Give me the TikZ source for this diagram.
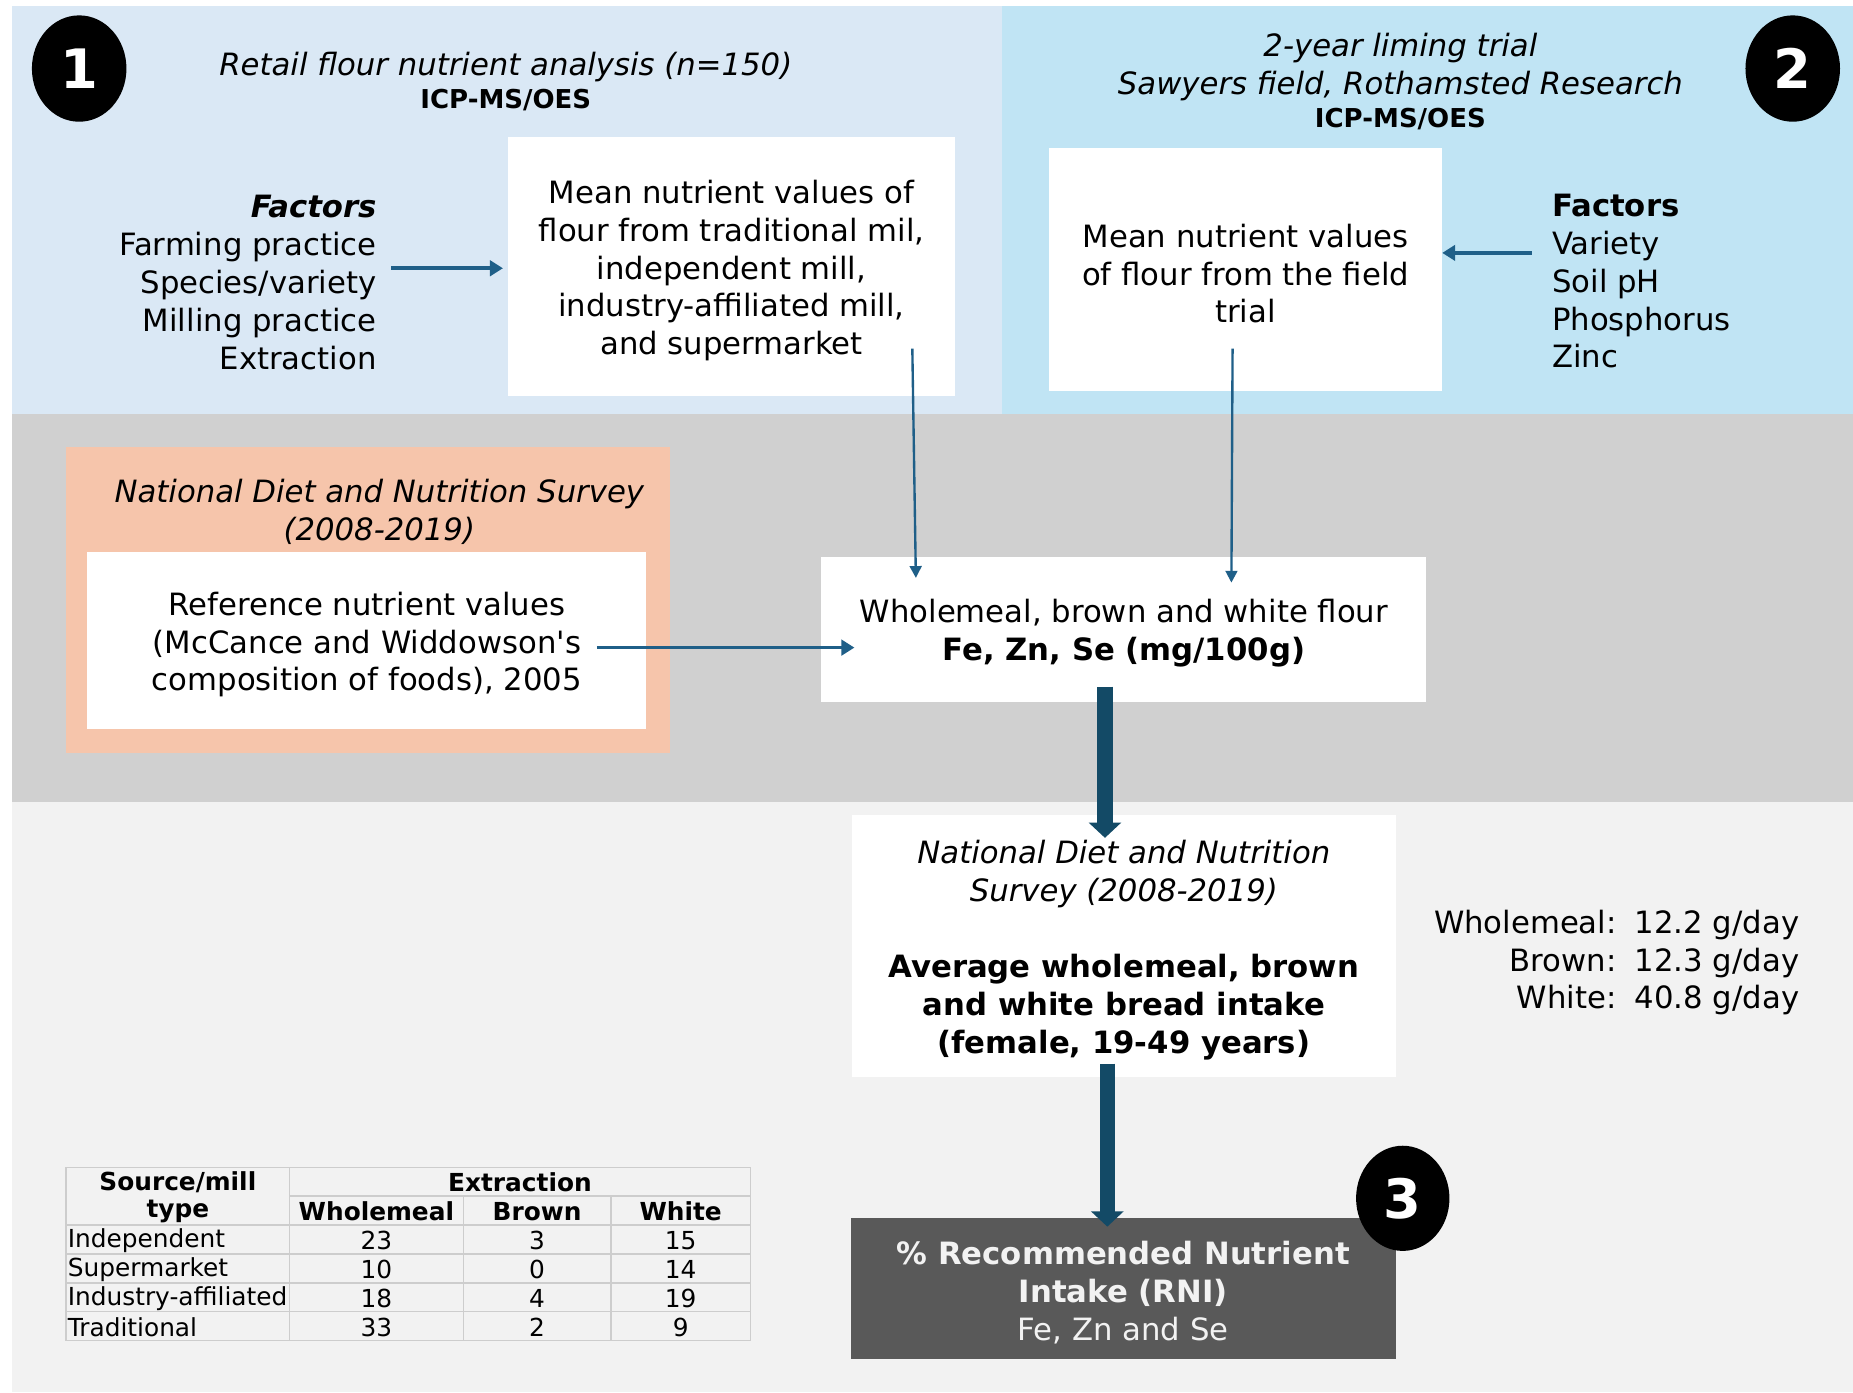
\documentclass[tikz,border=0pt]{standalone}
\usepackage{fontspec}
\setmainfont{DejaVu Sans}
\usetikzlibrary{arrows.meta,calc,shapes.geometric}

\definecolor{panelA}{HTML}{DAE8F5}
\definecolor{panelB}{HTML}{C0E4F4}
\definecolor{midband}{HTML}{D0D0D0}
\definecolor{lowband}{HTML}{F2F2F2}
\definecolor{peach}{HTML}{F6C5AB}
\definecolor{flowblue}{HTML}{1F5F88}
\definecolor{flowdark}{HTML}{134A66}
\definecolor{rnigray}{HTML}{595959}
\definecolor{gridgray}{HTML}{CDCDCD}

\newcommand{\mainsize}{\fontsize{13}{16}\selectfont}
\newcommand{\smallsize}{\fontsize{10.5}{12.25}\selectfont}

\begin{document}
\begin{tikzpicture}[x=0.5pt,y=-0.5pt,
  txt/.style={font=\mainsize, inner sep=0pt, yshift=-1.5pt},
  boxtext/.style={font=\mainsize, inner sep=0pt, align=center, yshift=-1.75pt},
  whitebox/.style={fill=white, inner sep=0pt},
  badge/.style={ellipse, fill=black, text=white, inner sep=0pt,
    minimum width=40pt, minimum height=45pt, font=\fontsize{23}{23}\selectfont\bfseries},
  thinflow/.style={draw=flowblue, line width=1.5pt, -{Triangle[length=5.5pt,width=6.5pt]}},
  slimflow/.style={draw=flowblue, line width=1pt, -{Triangle[length=5pt,width=5pt]}},
  thickflow/.style={draw=flowdark, line width=6.5pt, -{Triangle[length=6.5pt,width=13.5pt]}},
  cell/.style={font=\smallsize, inner sep=0pt},
  headcell/.style={font=\smallsize\bfseries, inner sep=0pt}]

\useasboundingbox (0,0) rectangle (1568,1178);

% background bands
\fill[white] (0,0) rectangle (1568,1178);
\fill[panelA] (10,5) rectangle (848,350);
\fill[panelB] (848,5) rectangle (1568,350);
\fill[midband] (10,350) rectangle (1568,679);
\fill[lowband] (10,679) rectangle (1568,1178);

% ---- panel 1: retail flour analysis
\node[badge] (b1) at (67,58) {1};
\node[txt, font=\mainsize\itshape] (t1) at (428,54) {Retail flour nutrient analysis (n=150)};
\node[txt, font=\fontsize{11}{13}\selectfont\bfseries] (icp1) at (428,82) {ICP-MS/OES};
\node[txt, align=right, anchor=east] (factL) at (319,236)
  {{\bfseries\itshape Factors}\\Farming practice\\Species/variety\\Milling practice\\Extraction};
\node[whitebox, minimum width=189pt, minimum height=109.5pt] (mean1) at (619,225.5) {};
\node[boxtext] (mean1t) at (mean1.center)
  {Mean nutrient values of\\flour from traditional mil,\\independent mill,\\industry-affiliated mill,\\and supermarket};

% ---- panel 2: liming trial
\node[badge] (b2) at (1517,58) {2};
\node[txt, font=\mainsize\itshape, align=center] (t2) at (1185,54)
  {2-year liming trial\\Sawyers field, Rothamsted Research};
\node[txt, font=\fontsize{11}{13}\selectfont\bfseries] (icp2) at (1185,98) {ICP-MS/OES};
\node[whitebox, minimum width=166pt, minimum height=103pt] (mean2) at (1054,228) {};
\node[boxtext] (mean2t) at (mean2.center)
  {Mean nutrient values\\of flour from the field\\trial};
\node[txt, align=left, anchor=west] (factR) at (1313,235)
  {{\bfseries Factors}\\Variety\\Soil pH\\Phosphorus\\Zinc};

% ---- reference values
\node[fill=peach, inner sep=0pt, minimum width=255.5pt, minimum height=129.5pt] (peachbox) at (311.5,507.5) {};
\node[txt, font=\mainsize\itshape, align=center] (ndnsref) at (321,430)
  {National Diet and Nutrition Survey\\(2008-2019)};
\node[whitebox, minimum width=236.5pt, minimum height=75pt] (refv) at (310.5,542) {};
\node[boxtext] (refvt) at (refv.center)
  {Reference nutrient values\\(McCance and Widdowson\textquotesingle s\\composition of foods), 2005};

% ---- flour composition
\node[whitebox, minimum width=256pt, minimum height=61.5pt] (flour) at (951,532.5) {};
\node[boxtext] (flourt) at (flour.center)
  {Wholemeal, brown and white flour\\{\bfseries Fe, Zn, Se (mg/100g)}};

% ---- bread intake
\node[whitebox, minimum width=230pt, minimum height=110.5pt] (ndns) at (951,800.5) {};
\node[boxtext] (ndnst) at (ndns.center)
  {{\itshape National Diet and Nutrition}\\{\itshape Survey (2008-2019)}\\[16pt]
   {\bfseries Average wholemeal, brown}\\{\bfseries and white bread intake}\\{\bfseries (female, 19-49 years)}};
\node[txt, align=right, anchor=east] (intake) at (1523,811.5)
  {Wholemeal:\, 12.2 g/day\\Brown:\, 12.3 g/day\\White:\, 40.8 g/day};

% ---- outcome
\node[fill=rnigray, inner sep=0pt, minimum width=230.5pt, minimum height=59.5pt] (rni) at (950.5,1090.5) {};
\node[boxtext, text=lowband] (rnit) at (rni.center)
  {{\bfseries \% Recommended Nutrient}\\{\bfseries Intake (RNI)}\\Fe, Zn and Se};
\node[badge, minimum width=39.5pt, minimum height=44.5pt] (b3) at (1187,1014) {3};

% ---- connectors
\coordinate (fa) at (331,227);
\draw[thinflow] (fa) -- ([xshift=-2pt]mean1.west |- fa);
\coordinate (fb) at (1296,214);
\draw[thinflow] (fb) -- (mean2.east |- fb);
\coordinate (ra) at (505,548);
\coordinate (rb) at (723,548);
\draw[thinflow] (ra) -- (rb);
\coordinate (m1s) at (772,295);
\coordinate (m1e) at (775,489);
\draw[slimflow] (m1s) -- (m1e);
\coordinate (m2s) at (1043,295);
\coordinate (m2e) at (1042,493);
\draw[slimflow] (m2s) -- (m2e);
\coordinate (fs) at (935,581);
\coordinate (fe) at (935,709);
\draw[thickflow] (fs) -- (fe);
\coordinate (ns) at (937,900);
\coordinate (ne) at (937,1038);
\draw[thickflow] (ns) -- (ne);

% ---- sample table
\begin{scope}[draw=gridgray, line width=0.6pt]
  \draw (56,988) rectangle (635,1134.5);
  \draw (245,988) -- (245,1134.5);
  \draw (392,1012) -- (392,1134.5);
  \draw (517,1012) -- (517,1134.5);
  \draw (245,1012) -- (635,1012);
  \foreach \yy in {1036.5,1061,1085.5,1110} \draw (56,\yy) -- (635,\yy);
\end{scope}
\node[headcell] (hsrc1) at (150.5,1000) {Source/mill};
\node[headcell] (hsrc2) at (150.5,1025) {type};
\node[headcell] (hext) at (440,1000) {Extraction};
\node[headcell] (hwm) at (318.5,1025) {Wholemeal};
\node[headcell] (hbr) at (454.5,1025) {Brown};
\node[headcell] (hwh) at (576,1025) {White};
\foreach \lab/\a/\b/\c [count=\i] in
  {Independent/23/3/15, Supermarket/10/0/14, Industry-affiliated/18/4/19, Traditional/33/2/9} {
  \pgfmathsetmacro{\yy}{1025+24.5*\i}
  \node[cell, anchor=west] (r\i c0) at (57,\yy) {\lab};
  \node[cell] (r\i c1) at (318.5,\yy) {\a};
  \node[cell] (r\i c2) at (454.5,\yy) {\b};
  \node[cell] (r\i c3) at (576,\yy) {\c};
}

\end{tikzpicture}
\end{document}
